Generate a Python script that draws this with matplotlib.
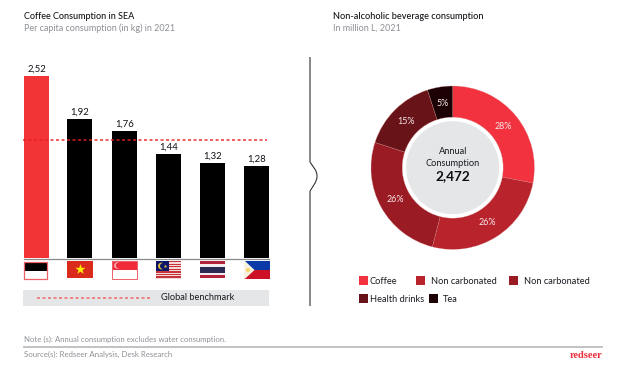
import numpy as np
import matplotlib
matplotlib.use("Agg")
import matplotlib.pyplot as plt
from matplotlib.patches import Rectangle, Circle, Polygon, PathPatch
from matplotlib.path import Path

plt.rcParams['font.family'] = ['Lato', 'DejaVu Sans']

W, H = 620, 374
countries = ["Indonesia", "Vietnam", "Singapore", "Malaysia", "Thailand", "Philippines"]
coffee_kg = [2.52, 1.92, 1.76, 1.44, 1.32, 1.28]
coffee_labels = ["2,52", "1,92", "1,76", "1,44", "1,32", "1,28"]
benchmark = 1.64
shares = [28, 26, 26, 15, 5]
share_labels = ["28%", "26%", "26%", "15%", "5%"]
drink_names = ["Coffee", "Non carbonated", "Non carbonated", "Health drinks", "Tea"]
drink_colors = ["#F2323F", "#B9232C", "#9A1B24", "#671318", "#1C0204"]

DARK = "#1A1A22"
GREY = "#8E9196"
RULE = "#BDBDBD"

fig = plt.figure(figsize=(W / 100, H / 100), dpi=100, facecolor="white")

def axes_px(x0, y0, x1, y1, **kw):
    return fig.add_axes([x0 / W, 1 - y1 / H, (x1 - x0) / W, (y1 - y0) / H], **kw)

# overlay in pixel coordinates for page furniture
pg = axes_px(0, 0, W, H)
pg.set_xlim(0, W); pg.set_ylim(H, 0); pg.axis("off")

def txt(x, y, s, size=6.4, color=DARK, **kw):
    kw.setdefault("va", "center")
    pg.text(x, y, s, fontsize=size, color=color, **kw)

txt(24.5, 16, "Coffee Consumption in SEA", 6.45, "#111118", fontweight="medium")
txt(24.5, 28, "Per capita consumption (in kg) in 2021", 6.5, GREY)
txt(333, 16, "Non-alcoholic beverage consumption", 6.55, "#111118", fontweight="medium")
txt(333, 28, "In million L, 2021", 6.5, GREY)

# divider with curved chevron
pg.plot([310, 310], [57, 162], color="#7E7E7E", lw=1.3, solid_capstyle="butt")
pg.plot([310, 310], [191, 306], color="#7E7E7E", lw=1.3, solid_capstyle="butt")
pg.add_patch(PathPatch(Path([(310, 162), (313, 167), (317, 170), (317, 176),
                             (317, 182), (313, 186), (310, 191)],
                            [Path.MOVETO, Path.CURVE4, Path.CURVE4, Path.CURVE4,
                             Path.CURVE4, Path.CURVE4, Path.CURVE4]),
                       fc="none", ec="#333333", lw=0.8))

# legend strip for benchmark
pg.add_patch(Rectangle((23, 290), 246, 16, fc="#E5E6E8", ec="none"))
pg.plot([37, 152], [298, 298], color="#F26A6A", lw=1.1, ls=(0, (2.0, 1.6)))
txt(161, 298, "Global benchmark", 6.7, DARK)

# footer
txt(24, 339.5, "Note (s): Annual consumption excludes water consumption.", 5.6, GREY)
pg.plot([24, 602], [347, 347], color=RULE, lw=1.3)
txt(24, 354, "Source(s): Redseer Analysis, Desk Research", 5.65, GREY)
txt(602.5, 355, "redseer", 7.6, "#EE2D3A", ha="right", family=["Liberation Serif"], fontweight="bold")

# bars: x axis runs in pixels so the slightly uneven slots carry over
slot_px = [36.5, 79.5, 124.5, 168.5, 212.5, 256.5]
bx = axes_px(24, 76, 269, 258)
bx.set_ylim(0, coffee_kg[0])
bx.set_xlim(24, 269)
bx.patch.set_alpha(0)
bx.bar(slot_px, coffee_kg, width=25, color=["#F23436"] + ["black"] * 5, zorder=2)
bx.axis("off")
bx.plot([23, 267], [benchmark, benchmark], color="#E8201F", lw=1.1, ls=(0, (2.0, 1.6)),
        zorder=3, alpha=0.9, clip_on=False)
for x, v, s in zip(slot_px, coffee_kg, coffee_labels):
    bx.annotate(s, (x, v), xytext=(0, 1.6), textcoords="offset points", ha="center", va="bottom",
                fontsize=6.9, color="#111118", annotation_clip=False)
pg.plot([24, 269], [258.5, 258.5], color="#8A8A8A", lw=0.9, zorder=4)

# flags
# Indonesia
pg.add_patch(Rectangle((24, 262), 23, 8.5, fc="black", ec="none"))
pg.add_patch(Rectangle((24, 270.5), 23, 8, fc="white", ec="none"))
pg.add_patch(Rectangle((23.7, 261.5), 23.6, 17.3, fc="none", ec="#F0606A", lw=0.9))
# Vietnam
pg.add_patch(Rectangle((67, 261), 26, 17, fc="#DA2A1C", ec="none"))
pg.scatter([79.8], [269.4], marker="*", s=62, c="#FFEB00", lw=0, zorder=3)
# Singapore
pg.add_patch(Rectangle((112.3, 261), 24.8, 9, fc="#EF2B3A", ec="none"))
pg.add_patch(Rectangle((112.3, 270), 24.8, 8.8, fc="white", ec="none"))
pg.add_patch(Rectangle((112.3, 261.3), 24.8, 17.5, fc="none", ec="#F0606A", lw=0.7))
pg.add_patch(Circle((117.3, 265.5), 3.2, fc="#F6B9BD", ec="none", zorder=3))
pg.add_patch(Circle((118.6, 265.5), 2.8, fc="#EF2B3A", ec="none", zorder=3))
# Malaysia
for k in range(7):
    pg.add_patch(Rectangle((156, 261 + k * 18 / 7), 25, 9 / 7 + 0.2, fc="#C8323A", ec="none"))
    pg.add_patch(Rectangle((156, 261 + (k + .5) * 18 / 7), 25, 9 / 7, fc="#F4DAD6", ec="none"))
pg.add_patch(Rectangle((156, 261), 12.5, 10.3, fc="#0B1668", ec="none"))
pg.add_patch(Circle((161.5, 266), 3.4, fc="#E8C33C", ec="none"))
pg.add_patch(Circle((163, 266), 3.0, fc="#0B1668", ec="none"))
pg.scatter([164.5], [266], marker="*", s=8, c="#E8C33C", lw=0)
# Thailand
for y0, h, c in [(261, 3, "#B3243A"), (264, 2.5, "#F2ECEC"), (266.5, 6, "#2B2A55"),
                 (272.5, 2.5, "#F2ECEC"), (275, 3, "#B3243A")]:
    pg.add_patch(Rectangle((200, y0), 25, h, fc=c, ec="none"))
# Philippines
pg.add_patch(Rectangle((244, 261), 26, 9, fc="#0A39A8", ec="none"))
pg.add_patch(Rectangle((244, 270), 26, 8.8, fc="#CC1126", ec="none"))
pg.add_patch(Polygon([(244, 261), (245, 261), (254.5, 270), (245, 278.8), (244, 278.8)],
                     fc="#F7F1E0", ec="none"))
pg.add_patch(Circle((248, 270), 2.0, fc="#F6D66A", ec="none"))

# donut
cx, cy, R = 452.7, 167.7, 81.7
dx = axes_px(cx - R, cy - R, cx + R, cy + R)
dx.patch.set_alpha(0)
dx.pie(shares, colors=drink_colors, startangle=90, counterclock=False, radius=1,
       wedgeprops=dict(width=1 - 50.5 / R, edgecolor="#D98A8A", linewidth=0.2), normalize=True)
dx.set_xlim(-1, 1); dx.set_ylim(-1, 1); dx.axis("off")
dx.add_patch(Circle((0, 0), 46.5 / R, fc="#E5E6E8", ec="none"))
start = 0
for v, s in zip(shares, share_labels):
    mid = np.deg2rad(90 - (start + v / 2) * 3.6)
    r = 0.80
    dx.text(r * np.cos(mid), r * np.sin(mid), s, ha="center", va="center", fontsize=6.4, color="#F6E8E8")
    start += v
dx.text(0, (cy - 152) / R, "Annual", fontsize=6.7, color=DARK, ha="center", va="center")
dx.text(0, (cy - 164) / R, "Consumption", fontsize=6.7, color=DARK, ha="center", va="center")
dx.text(0, (cy - 176.5) / R, "2,472", fontsize=9.8, color="#0E0E14", ha="center", va="center", fontweight="bold")

# legend
leg_swatch = [(359, 276), (416, 276), (509, 276), (359, 294), (429, 294)]
leg_text = [(370, 282), (431, 282), (524, 282), (370.5, 299), (442.5, 299)]
for (sx, sy), (tx, ty), c, n in zip(leg_swatch, leg_text, drink_colors, drink_names):
    pg.add_patch(Rectangle((sx, sy), 9, 9, fc=c, ec="none"))
    txt(tx, ty, n, 6.7, DARK)

fig.savefig("out.png", dpi=100, facecolor="white")
